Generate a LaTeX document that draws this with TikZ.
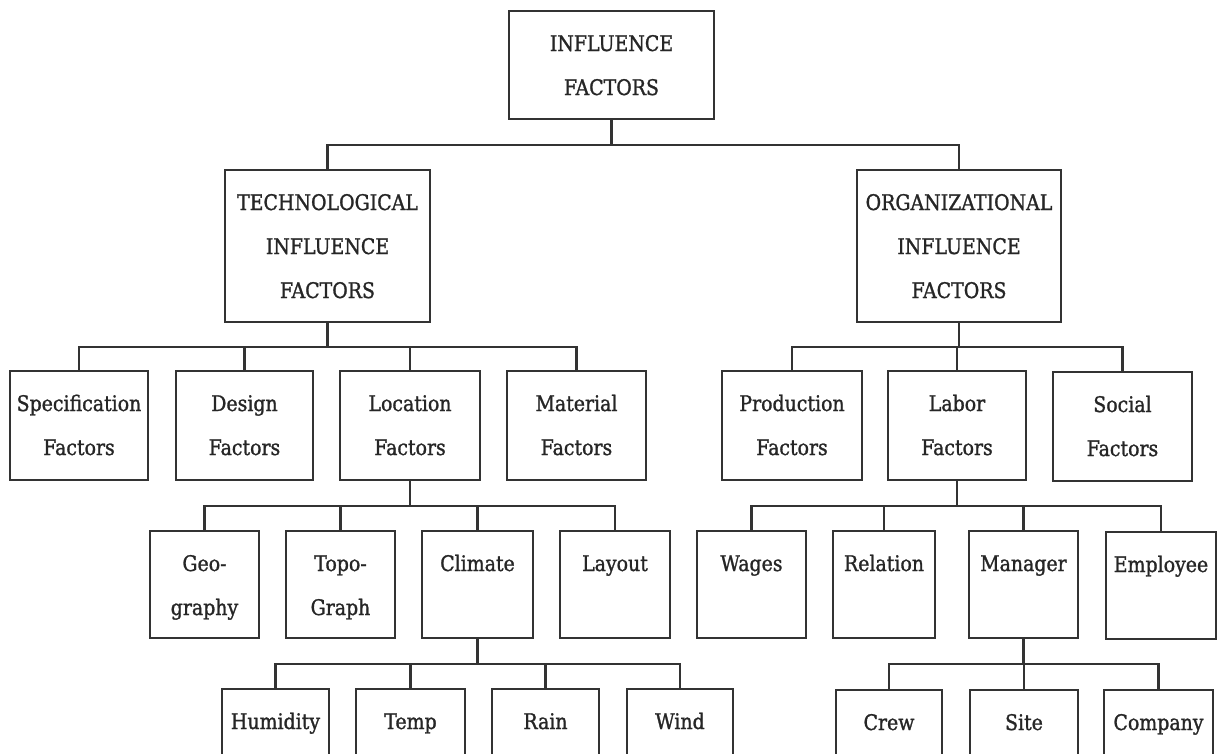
\documentclass[tikz,border=0pt]{standalone}
\usepackage{fontspec}
\setmainfont[FakeStretch=0.88,FakeBold=1.2]{DejaVu Serif}
\newcommand\bx[3]{\parbox[c][#2][t]{#1}{\centering\rule{0pt}{40pt}#3}}
\tikzset{
  box/.style={draw=black!80, line width=2.6pt, inner sep=0pt, outer sep=0pt,
    text=black!85, font=\fontsize{21.5}{44}\selectfont},
  link/.style={draw=black!80, line width=2.6pt}
}
\begin{document}
\begin{tikzpicture}[x=1pt,y=-1pt]
\useasboundingbox (0,0) rectangle (1217,753);
\clip (0,0) rectangle (1217,753);
\fill[white] (0,0) rectangle (1217,753);
% level 0
\node[box] (root) at (611.5,65) {\bx{205pt}{108pt}{INFLUENCE\\FACTORS}};
% level 1
\node[box] (tech) at (327.5,246) {\bx{205pt}{152pt}{TECHNOLOGICAL\\INFLUENCE\\FACTORS}};
\node[box] (org) at (959,246) {\bx{204pt}{152pt}{ORGANIZATIONAL\\INFLUENCE\\FACTORS}};
% level 2
\node[box] (spec) at (79,425.5) {\bx{138pt}{109pt}{Specification\\Factors}};
\node[box] (design) at (244.5,425.5) {\bx{137pt}{109pt}{Design\\Factors}};
\node[box] (loc) at (410,425.5) {\bx{140pt}{109pt}{Location\\Factors}};
\node[box] (mat) at (576.5,425.5) {\bx{139pt}{109pt}{Material\\Factors}};
\node[box] (prod) at (792,425.5) {\bx{140pt}{109pt}{Production\\Factors}};
\node[box] (labor) at (957,425.5) {\bx{138pt}{109pt}{Labor\\Factors}};
\node[box] (social) at (1122.5,426.5) {\bx{139pt}{109pt}{Social\\Factors}};
% level 3
\node[box] (geo) at (204.5,584.5) {\bx{109pt}{107pt}{Geo-\\graphy}};
\node[box] (topo) at (340.5,584.5) {\bx{109pt}{107pt}{Topo-\\Graph}};
\node[box] (climate) at (477.5,584.5) {\bx{111pt}{107pt}{Climate}};
\node[box] (layout) at (615,584.5) {\bx{110pt}{107pt}{Layout}};
\node[box] (wages) at (751.5,584.5) {\bx{109pt}{107pt}{Wages}};
\node[box] (relation) at (884,584.5) {\bx{102pt}{107pt}{Relation}};
\node[box] (manager) at (1023.5,584.5) {\bx{109pt}{107pt}{Manager}};
\node[box] (employee) at (1161,585.5) {\bx{110pt}{107pt}{Employee}};
% level 4
\node[box, anchor=north] (humidity) at (275.5,689) {\bx{107pt}{80pt}{Humidity}};
\node[box, anchor=north] (temp) at (410.5,689) {\bx{109pt}{80pt}{Temp}};
\node[box, anchor=north] (rain) at (545.5,689) {\bx{107pt}{80pt}{Rain}};
\node[box, anchor=north] (wind) at (680,689) {\bx{106pt}{80pt}{Wind}};
\node[box, anchor=north] (crew) at (889,690) {\bx{106pt}{80pt}{Crew}};
\node[box, anchor=north] (site) at (1024,690) {\bx{108pt}{80pt}{Site}};
\node[box, anchor=north] (company) at (1158.5,690) {\bx{109pt}{80pt}{Company}};
% connectors
\foreach \c in {tech,org}{\draw[link] (root.south) -- ++(0,26) -| (\c.north);}
\foreach \c in {spec,design,loc,mat}{\draw[link] (tech.south) -- ++(0,25) -| (\c.north);}
\foreach \c in {prod,labor,social}{\draw[link] (org.south) -- ++(0,25) -| (\c.north);}
\foreach \c in {geo,topo,climate,layout}{\draw[link] (loc.south) -- ++(0,26) -| (\c.north);}
\foreach \c in {wages,relation,manager,employee}{\draw[link] (labor.south) -- ++(0,26) -| (\c.north);}
\foreach \c in {humidity,temp,rain,wind}{\draw[link] (climate.south) -- ++(0,26) -| (\c.north);}
\foreach \c in {crew,site,company}{\draw[link] (manager.south) -- ++(0,26) -| (\c.north);}
\end{tikzpicture}
\end{document}
